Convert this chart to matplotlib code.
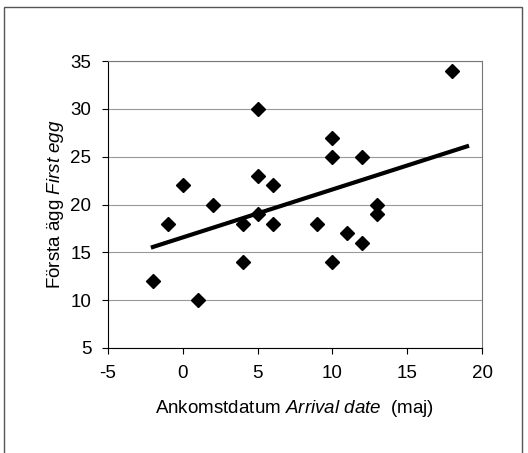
import numpy as np
import matplotlib.pyplot as plt
from matplotlib.patches import Rectangle

plt.rcParams['font.family'] = ['Liberation Sans', 'DejaVu Sans']
plt.rcParams['mathtext.fontset'] = 'custom'
plt.rcParams['mathtext.rm'] = 'Liberation Sans'
plt.rcParams['mathtext.it'] = 'Liberation Sans:italic'
plt.rcParams['axes.unicode_minus'] = False

# ankomstdatum (maj) och första ägg
arrival = [-2, -1, 0, 1, 2, 4, 4, 5, 5, 5, 6, 6, 9, 10, 10, 10, 11, 12, 12, 13, 13, 18]
first_egg = [12, 18, 22, 10, 20, 18, 14, 30, 23, 19, 22, 18, 18, 27, 25, 14, 17, 25, 16, 20, 19, 34]

xticks = [-5, 0, 5, 10, 15, 20]
yticks = [5, 10, 15, 20, 25, 30, 35]

fig = plt.figure(figsize=(5.28, 4.53), dpi=100)
ax = fig.add_axes([108/528, 1-348/453, (482-108)/528, (348-61)/453])

# outer frame around whole chart
fig.patches.append(Rectangle((4/528, -0.05), (522-4)/528, 1 - 7/453 + 0.05,
                             transform=fig.transFigure, fill=False,
                             edgecolor='#555555', lw=1.0))

ax.grid(axis='y', color='#999999', lw=0.8)
ax.set_axisbelow(True)

ax.plot(arrival, first_egg, 'D', color='black', markersize=7.5, zorder=3)

k, m = np.polyfit(arrival, first_egg, 1)
xl = np.array([-2, 19])
ax.plot(xl, k*xl + m, color='black', lw=3, zorder=2)

ax.set_xlim(-5, 20)
ax.set_ylim(5, 35)
ax.set_xticks(xticks)
ax.set_yticks(yticks)
ax.tick_params(direction='out', length=4, labelsize=13.5, color='black', pad=8)
for s in ax.spines.values():
    s.set_color('#777777')
ax.spines['left'].set_color('black')
ax.spines['bottom'].set_color('black')

ax.set_xlabel('Ankomstdatum $\\mathit{Arrival\\ date}$  (maj)', fontsize=13.5, labelpad=12)
ax.set_ylabel('Första ägg $\\mathit{First\\ egg}$', fontsize=13.5, labelpad=3)

fig.savefig('out.png', dpi=100)
